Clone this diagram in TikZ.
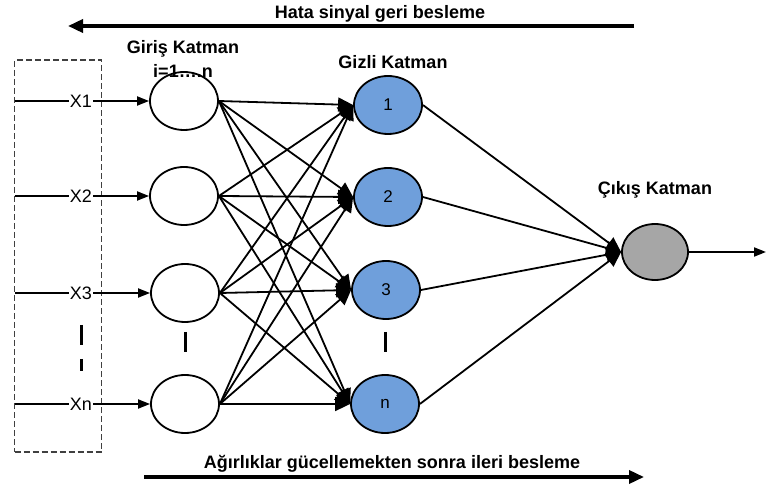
\documentclass[tikz,border=0pt]{standalone}
\usepackage{fontspec}
\setmainfont{Liberation Sans}
\usetikzlibrary{arrows.meta,shapes.geometric}
\definecolor{hid}{HTML}{6F9FDB}
\definecolor{outc}{HTML}{A6A6A6}
\begin{document}
\begin{tikzpicture}[x=1pt,y=-1pt,
  neuron/.style={draw,ellipse,line width=1.8pt,minimum width=68pt,minimum height=58pt,inner sep=0pt},
  inp/.style={neuron,fill=white},
  hidn/.style={neuron,fill=hid,font=\fontsize{17}{18}\selectfont},
  outn/.style={neuron,fill=outc,minimum width=66pt,minimum height=56pt},
  lbl/.style={font=\bfseries\fontsize{18}{20}\selectfont},
  conn/.style={line width=1.8pt,-{Triangle[length=15pt,width=14pt]}},
  inarr/.style={line width=1.8pt,-{Triangle[length=12pt,width=9pt]}},
  bigarr/.style={line width=3.5pt,-{Triangle[length=15pt,width=13pt]}},
  xl/.style={font=\fontsize{18}{19}\selectfont,fill=white,inner sep=0.5pt},
  bar/.style={line width=3pt}
]
\useasboundingbox (0,0) rectangle (766,486);
% dashed box
\node[draw=black!75,dash pattern=on 6pt off 3pt,line width=1.2pt,minimum width=87pt,minimum height=392pt,inner sep=0pt] (box) at (58,256) {};
% input nodes
\node[inp] (i1) at (184,101) {};
\node[inp] (i2) at (184,196) {};
\node[inp] (i3) at (185,293) {};
\node[inp] (i4) at (185,404) {};
% hidden nodes
\node[hidn] (h1) at (388,105) {1};
\node[hidn] (h2) at (388,197) {2};
\node[hidn] (h3) at (386,290) {3};
\node[hidn] (h4) at (385,404) {n};
% output
\node[outn] (o) at (655,252) {};
\coordinate (oend) at (766,252);
% input lines
\foreach \i/\t/\y in {1/X1/101,2/X2/196,3/X3/293,4/Xn/404}{
  \coordinate (s\i) at (15,\y);
  \draw[inarr] (s\i) -- (i\i.west);
  \node[xl] (xl\i) at (81,\y) {\t};
}
% connections
\foreach \i in {1,2,3,4}{
  \foreach \h in {1,2,3,4}{
    \draw[conn] (i\i.east) -- (h\h.west);
  }
}
\foreach \h in {1,2,3,4}{
  \draw[conn] (h\h.east) -- (o.west);
}
\draw[inarr] (o.east) -- (oend);
% labels
\node[lbl] (gl) at (183,49) {Giriş Katman};
\node[lbl] (gl2) at (183,71) {i=1….n};
\node[lbl] (hl) at (393,62) {Gizli Katman};
\node[lbl] (ol) at (655,190) {Çıkış Katman};
% top arrow
\node[lbl] (top) at (380,14) {Hata sinyal geri besleme};
\coordinate (ta) at (634,26);
\coordinate (tb) at (68,26);
\draw[bigarr] (ta) -- (tb);
% bottom arrow
\node[lbl] (bot) at (392,464) {Ağırlıklar gücellemekten sonra ileri besleme};
\coordinate (ba) at (144,477);
\coordinate (bb) at (644,477);
\draw[bigarr] (ba) -- (bb);
% vertical bars
\coordinate (v1a) at (81,325); \coordinate (v1b) at (81,345);
\coordinate (v2a) at (81,359); \coordinate (v2b) at (81,371);
\coordinate (v3a) at (185,332); \coordinate (v3b) at (185,352);
\coordinate (v4a) at (385,332); \coordinate (v4b) at (385,352);
\draw[bar] (v1a) -- (v1b);
\draw[bar] (v2a) -- (v2b);
\draw[bar] (v3a) -- (v3b);
\draw[bar] (v4a) -- (v4b);
\end{tikzpicture}
\end{document}
